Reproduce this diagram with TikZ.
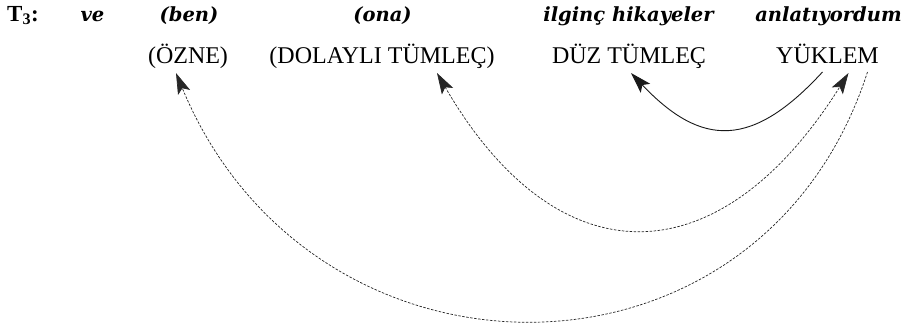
\documentclass[tikz,border=0pt]{standalone}
\usepackage{fontspec}
\setmainfont{Liberation Serif}
\newfontfamily\glossfont{DejaVu Serif}
\usetikzlibrary{arrows.meta}

\begin{document}
\begin{tikzpicture}[x=1pt,y=-1pt,
  gloss/.style={anchor=base, inner sep=0pt,
    font=\glossfont\bfseries\itshape\fontsize{19.5}{22}\selectfont},
  role/.style={anchor=base, inner sep=0pt, font=\fontsize{24}{28}\selectfont},
  tip/.style={-{Stealth[length=21pt,width=13pt,inset=4.5pt]}},
  link/.style={tip, line width=0.9pt, black!90},
  dotlink/.style={line width=0.7pt, dash pattern=on 2.5pt off 1.5pt, black!85},
]
\useasboundingbox (0,0) rectangle (911,330);

% sentence label and glossed words
\node[anchor=base west, inner sep=0pt, font=\bfseries\fontsize{23}{26}\selectfont]
  (tag) at (7,21) {T\textsubscript{3}:};
\node[gloss] (ve)  at (92.5,21)  {ve};
\node[gloss] (ben) at (189,21)   {(ben)};
\node[gloss] (ona) at (382.5,21) {(ona)};
\node[gloss] (hik) at (628.5,21) {ilginç hikayeler};
\node[gloss] (anl) at (828.5,21) {anlatıyordum};

% sentence roles
\node[role] (ozne) at (188,63)   {(ÖZNE)};
\node[role] (dol)  at (382,63)   {(DOLAYLI TÜMLEÇ)};
\node[role] (duz)  at (629,63)   {DÜZ TÜMLEÇ};
\node[role] (yuk)  at (827.5,63) {YÜKLEM};

% attachment points under the role labels
\coordinate (oz-in)  at ([shift={(-12,10)}]ozne.base);
\coordinate (dol-in) at ([shift={(55,10)}]dol.base);
\coordinate (duz-in) at ([shift={(2,10)}]duz.base);
\coordinate (yuk-a)  at ([shift={(-5,9)}]yuk.base);
\coordinate (yuk-b)  at ([shift={(21,10)}]yuk.base);
\coordinate (yuk-c)  at ([shift={(40,9)}]yuk.base);

% predicate -> direct object
\draw[link] (yuk-a) .. controls +(-70,76) and +(71,75) .. (duz-in);
% indirect object <-> predicate
\draw[dotlink, {Stealth[length=21pt,width=13pt,inset=4.5pt]}-{Stealth[length=21pt,width=13pt,inset=4.5pt]}]
  (dol-in) .. controls +(120,207) and +(-130,207) .. (yuk-b);
% predicate -> subject
\draw[dotlink, tip] (yuk-c) .. controls +(-107,331) and +(137,330) .. (oz-in);
\end{tikzpicture}
\end{document}
